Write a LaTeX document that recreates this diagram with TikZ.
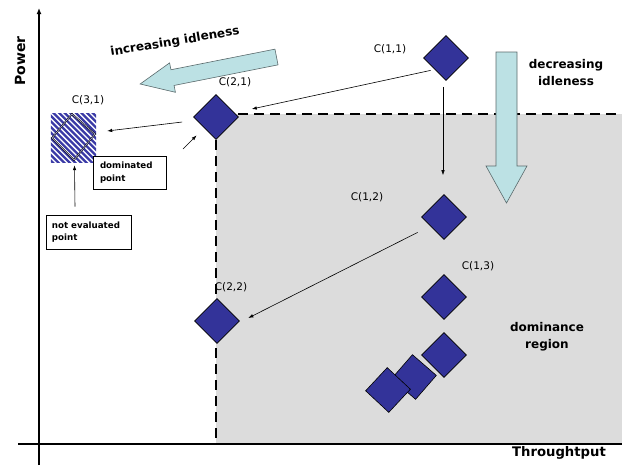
\documentclass[tikz,border=0pt]{standalone}
\usepackage{fontspec}
\setmainfont{DejaVu Sans}
\usetikzlibrary{shapes.geometric,arrows.meta}

\definecolor{pointblue}{HTML}{333399}
\definecolor{hatchblue}{HTML}{3A3AA6}
\definecolor{idlecyan}{HTML}{BCE1E4}
\definecolor{regiongray}{HTML}{DCDCDC}
\definecolor{arrowedge}{HTML}{5A6A6C}

\begin{document}
\begin{tikzpicture}[x=1pt,y=-1pt,
  config/.style={diamond, draw=black, line width=0.6pt, fill=pointblue,
    minimum width=45pt, minimum height=45pt, inner sep=0pt},
  lbl/.style={font=\fontsize{10.5}{12}\selectfont, inner sep=0pt},
  boldlbl/.style={font=\fontsize{12}{17}\selectfont\bfseries, align=center, inner sep=0pt},
  axislbl/.style={font=\fontsize{14}{16}\selectfont\bfseries, inner sep=0pt},
  note/.style={draw, line width=0.6pt, fill=white, align=left,
    font=\fontsize{8.7}{12.5}\selectfont\bfseries, inner ysep=0pt},
  link/.style={-{Latex[length=5pt,width=3.5pt]}, line width=0.6pt},
  fatarrow/.style={fill=idlecyan, draw=arrowedge, line width=0.6pt},
  frontier/.style={dash pattern=on 10pt off 6pt, line width=2.8pt},
  axis/.style={line width=1.8pt},
  stripe/.style={hatchblue, line width=2.3pt}
]
\useasboundingbox (0,0) rectangle (622,467);

% dominance region
\fill[regiongray] (216,114) rectangle (622,444);

% axes
\draw[axis] (18,444) -- (622,444);
\draw[axis, -{Latex[length=6pt,width=5pt]}] (39,465) -- (39,8);
\node[axislbl, rotate=90] (ylab) at (20,61) {Power};
\node[axislbl, font=\fontsize{13.2}{16}\selectfont\bfseries] (xlab) at (559,453) {Throughtput};

% Pareto frontier
\draw[frontier] (238,114) -- (622,114);
\draw[frontier] (216,140) -- (216,444);

% idleness arrows
\draw[fatarrow] (496,52) -- (517,52) -- (517,166) -- (527,166) -- (506.5,203)
  -- (486,166) -- (496,166) -- cycle;
\draw[fatarrow, shift={(276.5,57)}, rotate=191.2]
  (0,-8) -- (106,-8) -- (106,-15) -- (139,0) -- (106,15) -- (106,8) -- (0,8) -- cycle;
\node[boldlbl] (declbl) at (566,73) {decreasing\\idleness};
\node[boldlbl, rotate=9.5] (inclbl) at (175,42) {increasing idleness};
\node[boldlbl] (domlbl) at (547,337) {dominance\\region};

% configurations
\node[config] (c11) at (446,58) {};
\node[config] (c12) at (444,217) {};
\node[config] (c13) at (444,297) {};
\node[config] (c21) at (216,117) {};
\node[config] (c22) at (217,321) {};
\node[config] (p1) at (444,355) {};
\node[config, rotate=4] (p2) at (414,377) {};
\node[config, rotate=2] (p3) at (388,390) {};

% not evaluated configuration: striped square with an outlined diamond
\node[minimum width=45pt, minimum height=48pt, inner sep=0pt] (c31) at (73.5,138) {};
\begin{scope}
  \clip (c31.north west) rectangle (c31.south east);
  \foreach \k in {-60,-54.4,...,50} {
    \draw[stripe] (51+\k,112) -- ++(56,56);
  }
\end{scope}
\draw[line width=0.5pt, double=hatchblue!40, double distance=0.6pt]
  (72,114) -- (95,134) -- (74,160) -- (52,138) -- cycle;

% configuration labels
\node[lbl] (l31) at (88,100) {C(3,1)};
\node[lbl] (l21) at (235,82) {C(2,1)};
\node[lbl] (l11) at (390,49) {C(1,1)};
\node[lbl] (l12) at (367,197) {C(1,2)};
\node[lbl] (l13) at (478,266) {C(1,3)};
\node[lbl] (l22) at (231,287) {C(2,2)};

% notes
\node[note, text width=59pt, inner xsep=7pt, minimum height=33pt] (dp) at (129.5,172.5) {dominated\\point};
\node[note, text width=73pt, inner xsep=6pt, minimum height=34pt] (ne) at (88.5,232) {not evaluated\\point};

% exploration steps
\coordinate (hint) at (183,149);
\draw[link] ([shift={(-4,1)}]c11.south west) -- ([shift={(13,-8)}]c21.east);
\draw[link] ([shift={(-3,6)}]c11.south) -- ([shift={(-1,-19)}]c12.north);
\draw[link] ([shift={(-11,5)}]c21.west) -- ([shift={(11,-7)}]c31.east);
\draw[link] (hint) -- ([shift={(-8,7)}]c21.south west);
\draw[link] ([shift={(-13.5,-8)}]ne.north) -- ([shift={(1,3)}]c31.south);
\draw[link] ([shift={(-15,4)}]c12.south west) -- ([shift={(8.5,-3)}]c22.east);
\end{tikzpicture}
\end{document}
